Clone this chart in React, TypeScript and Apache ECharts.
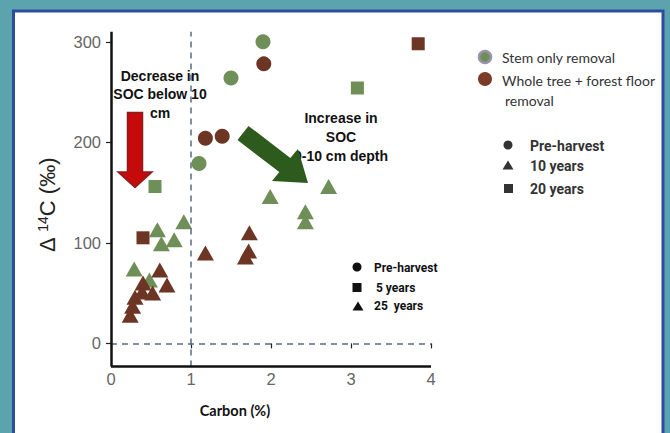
import React, { useEffect, useRef } from "react";
import * as echarts from "echarts";

// ---- data (Carbon %, Δ14C ‰) ----
const stemPreHarvest: number[][] = [[1.9, 300], [1.5, 264], [1.1, 179]];
const stem20yr: number[][] = [[0.55, 156], [3.08, 254]];
const stem10yr: number[][] = [
  [0.58, 113], [0.63, 99], [0.79, 103], [0.91, 121], [0.29, 74], [0.48, 63],
  [1.99, 146], [2.72, 156], [2.43, 131], [2.43, 121],
];
const wholePreHarvest: number[][] = [[1.91, 278], [1.18, 204], [1.39, 206]];
const whole20yr: number[][] = [[0.4, 105], [3.84, 298]];
const whole10yr: number[][] = [
  [1.73, 110], [1.72, 92], [1.68, 86], [1.18, 90], [0.61, 73], [0.7, 58],
  [0.4, 60], [0.39, 51], [0.52, 50], [0.3, 46], [0.27, 37], [0.24, 28],
];
const xTicks = [0, 1, 2, 3, 4];
const yTicks = [0, 100, 200, 300];
const X_MIN = 0;
const X_MAX = 4;
const Y_MIN = -23;
const Y_MAX = 310;

const GREEN = "#6e8f57";
const BROWN = "#6c3524";
const TRI = "triangle";

export default function App() {
  const ref = useRef<HTMLDivElement>(null);
  useEffect(() => {
    document.body.style.margin = "0";
    const chart = echarts.init(ref.current!, null, { renderer: "svg" });

    const tri = (cx: number, cy: number, w: number, h: number) => [
      [cx, cy - h / 2], [cx + w / 2, cy + h / 2], [cx - w / 2, cy + h / 2],
    ];

    const boldNarrow = "Roboto, 'Liberation Sans', sans-serif";
    const mk = (data: number[][], symbol: string, size: any, color: string) => ({
      type: "scatter",
      data,
      symbol,
      symbolSize: size,
      itemStyle: { color, opacity: 1 },
      z: 3,
    });

    const option: any = {
      animation: false,
      backgroundColor: "#5ba3ad",
      grid: { left: 111, top: 31.7, width: 320, height: 334.8 },
      xAxis: {
        type: "value",
        min: X_MIN,
        max: X_MAX,
        interval: 1,
        splitLine: { show: false },
        axisLine: { show: false },
        axisTick: { show: true, length: 5, lineStyle: { color: "#222", width: 1.2 } },
        axisLabel: {
          color: "#666",
          fontSize: 16.5,
          margin: 4,
          fontFamily: "'Liberation Sans', Arial, sans-serif",
          customValues: xTicks,
        },
      },
      yAxis: {
        type: "value",
        min: Y_MIN,
        max: Y_MAX,
        splitLine: { show: false },
        axisLine: { show: false },
        axisTick: { show: true, length: 5, customValues: yTicks, lineStyle: { color: "#222", width: 1.2 } },
        axisLabel: {
          color: "#666",
          fontSize: 16.5,
          margin: 10,
          fontFamily: "'Liberation Sans', Arial, sans-serif",
          customValues: yTicks,
        },
      },
      series: [
        {
          type: "scatter",
          data: [],
          silent: true,
          markLine: {
            symbol: "none",
            silent: true,
            label: { show: false },
            lineStyle: { color: "#5b6b80", type: [6, 5], width: 1.5, opacity: 1 },
            data: [{ xAxis: 1 }, { yAxis: 0 }],
          },
        },
        {
          type: "scatter",
          data: [],
          silent: true,
          z: 4,
          markLine: {
            symbol: "none",
            silent: true,
            label: { show: false },
            lineStyle: { color: "#111", type: "solid", width: 2.5, opacity: 1 },
            data: [{ xAxis: X_MIN }, { yAxis: Y_MIN }],
          },
        },
        mk(stem10yr, TRI, [17, 15], GREEN),
        mk(stem20yr, "rect", 13, GREEN),
        mk(stemPreHarvest, "circle", 15, GREEN),
        mk(whole10yr, TRI, [17, 15], BROWN),
        mk(whole20yr, "rect", 13, BROWN),
        mk(wholePreHarvest, "circle", 15, BROWN),
      ],
      graphic: [
        // white panel with blue border (behind everything)
        {
          type: "rect",
          z: -10,
          silent: true,
          shape: { x: 13.5, y: 11, width: 649.5, height: 440 },
          style: { fill: "#ffffff", stroke: "#2d4c9f", lineWidth: 3 },
        },
        // y axis title
        {
          type: "text",
          x: 47,
          y: 205,
          rotation: Math.PI / 2,
          style: {
            text: "Δ {sup|14}C (‰)",
            fontSize: 22,
            fontFamily: "'Liberation Sans', Arial, sans-serif",
            fill: "#222",
            align: "center",
            verticalAlign: "middle",
            rich: { sup: { fontSize: 14, verticalAlign: "top", padding: [0, 0, 8, 0], fill: "#222", fontFamily: "'Liberation Sans', Arial, sans-serif" } },
          },
        },
        // x axis title
        {
          type: "text",
          x: 235,
          y: 410,
          style: {
            text: "Carbon (%)",
            fontSize: 14.5,
            fontWeight: "bold",
            fontFamily: "Lato, sans-serif",
            fill: "#111",
            align: "center",
            verticalAlign: "middle",
          },
        },
        // annotation: decrease
        {
          type: "text",
          x: 160,
          y: 94,
          style: {
            text: "Decrease in\nSOC below 10\ncm",
            fontSize: 14,
            lineHeight: 18.5,
            fontWeight: "bold",
            fontFamily: "'Liberation Sans', Arial, sans-serif",
            fill: "#111",
            align: "center",
            verticalAlign: "middle",
          },
        },
        // red arrow
        {
          type: "polygon",
          shape: {
            points: [
              [127.5, 112.5], [142.5, 112.5], [142.5, 172], [152, 172],
              [135, 187.5], [118, 172], [127.5, 172],
            ],
          },
          style: { fill: "#c40a0a", stroke: "#8a1c1c", lineWidth: 1.5 },
        },
        // annotation: increase
        {
          type: "text",
          x: 341,
          y: 137,
          style: {
            text: "Increase in\nSOC\n0-10 cm depth",
            fontSize: 14,
            lineHeight: 19,
            fontWeight: "bold",
            fontFamily: "'Liberation Sans', Arial, sans-serif",
            fill: "#111",
            align: "center",
            verticalAlign: "middle",
          },
        },
        // green arrow
        {
          type: "polygon",
          shape: {
            points: [
              [248.5, 125.9], [290.3, 157.9], [298, 149], [308, 183],
              [272, 181], [279.3, 172.1], [237.5, 140.1],
            ],
          },
          style: { fill: "#2c5b1d" },
        },
        // right legend: treatments
        { type: "circle", shape: { cx: 485, cy: 57, r: 6 }, style: { fill: GREEN, stroke: "#9a92a8", lineWidth: 2.5 } },
        {
          type: "text", x: 502, y: 57,
          style: { text: "Stem only removal", fontSize: 14, fontFamily: "Lato, sans-serif", fill: "#333", verticalAlign: "middle" },
        },
        { type: "circle", shape: { cx: 485, cy: 79, r: 7 }, style: { fill: "#7a3a26" } },
        {
          type: "text", x: 502, y: 80,
          style: { text: "Whole tree + forest floor", fontSize: 14, fontFamily: "Lato, sans-serif", fill: "#333", verticalAlign: "middle" },
        },
        {
          type: "text", x: 505, y: 100,
          style: { text: "removal", fontSize: 14, fontFamily: "Lato, sans-serif", fill: "#333", verticalAlign: "middle" },
        },
        // right legend: shapes
        { type: "circle", shape: { cx: 508, cy: 145, r: 4.5 }, style: { fill: "#333" } },
        {
          type: "text", x: 530, y: 146,
          style: { text: "Pre-harvest", fontSize: 14, fontWeight: "bold", fontFamily: boldNarrow, fill: "#333", verticalAlign: "middle" },
        },
        { type: "polygon", shape: { points: tri(508, 165, 11, 9) }, style: { fill: "#333" } },
        {
          type: "text", x: 530, y: 166,
          style: { text: "10 years", fontSize: 14, fontWeight: "bold", fontFamily: boldNarrow, fill: "#333", verticalAlign: "middle" },
        },
        { type: "rect", shape: { x: 504, y: 184, width: 9, height: 9 }, style: { fill: "#333" } },
        {
          type: "text", x: 530, y: 189,
          style: { text: "20 years", fontSize: 14, fontWeight: "bold", fontFamily: boldNarrow, fill: "#333", verticalAlign: "middle" },
        },
        // inner legend
        { type: "circle", shape: { cx: 357, cy: 267, r: 4.5 }, style: { fill: "#111" } },
        {
          type: "text", x: 374, y: 268,
          style: { text: "Pre-harvest", fontSize: 12, fontWeight: "bold", fontFamily: boldNarrow, fill: "#111", verticalAlign: "middle" },
        },
        { type: "rect", shape: { x: 352.5, y: 283, width: 9, height: 9 }, style: { fill: "#111" } },
        {
          type: "text", x: 376, y: 288,
          style: { text: "5 years", fontSize: 12, fontWeight: "bold", fontFamily: boldNarrow, fill: "#111", verticalAlign: "middle" },
        },
        { type: "polygon", shape: { points: tri(358, 306, 11, 9) }, style: { fill: "#111" } },
        {
          type: "text", x: 374, y: 306,
          style: { text: "25  years", fontSize: 12, fontWeight: "bold", fontFamily: boldNarrow, fill: "#111", verticalAlign: "middle" },
        },
      ],
    };
    chart.setOption(option);
    return () => chart.dispose();
  }, []);
  return <div ref={ref} style={{ width: 670, height: 433 }} />;
}
